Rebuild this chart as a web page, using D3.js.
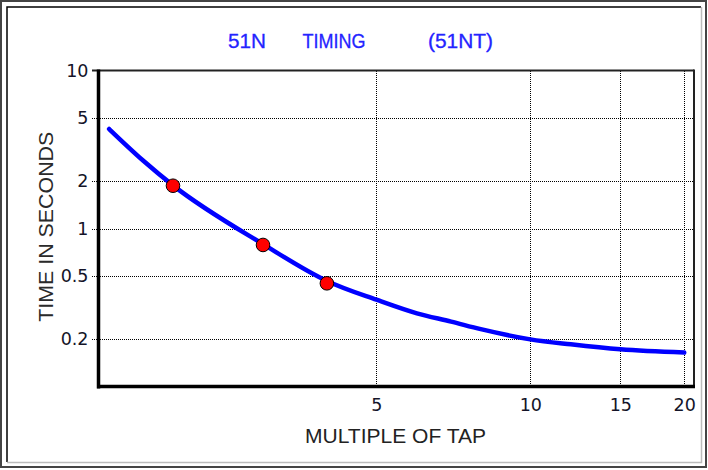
<!DOCTYPE html>
<html>
<head>
<meta charset="utf-8">
<script src="https://cdn.jsdelivr.net/npm/d3@7/dist/d3.min.js"></script>
<style>
  html, body { margin: 0; padding: 0; background: #fff; }
  svg { display: block; }
</style>
</head>
<body>
<svg id="chart" width="708" height="470"></svg>
<script>
// 51N ground time-overcurrent element: operating time vs. multiple of tap (log-log)
const titleParts = ["51N", "TIMING", "(51NT)"];
const xTitle = "MULTIPLE OF TAP";
const yTitle = "TIME IN SECONDS";

const xTickValues = [5, 10, 15, 20];
const xTickLabels = ["5", "10", "15", "20"];
const yTickValues = [10, 5, 2, 1, 0.5, 0.2];
const yTickLabels = ["10", "5", "2", "1", "0.5", "0.2"];

// relay characteristic curve
const curveMultiples = [1.5, 1.75, 2, 3, 4, 5, 6, 7, 8, 10, 12, 15, 20];
const curveTimes     = [4.27, 2.69, 1.88, 0.80, 0.468, 0.356, 0.292, 0.259, 0.232, 0.200, 0.186, 0.173, 0.165];

// measured test points
const testMultiples = [2, 3, 4];
const testTimes     = [1.87, 0.79, 0.452];

const W = 708, H = 470;
const plot = { left: 98.5, right: 694, top: 70.5, bottom: 387 };

const svg = d3.select("#chart");

const x = d3.scaleLog().domain([1.43, 20.9]).range([plot.left, plot.right]);
const y = d3.scaleLog().domain([0.1, 10]).range([plot.bottom, plot.top]);
const crisp = v => Math.round(v) + 0.5;

// outer window frame
svg.append("rect").attr("x", 1).attr("y", 1).attr("width", W - 3).attr("height", H - 4)
  .attr("fill", "none").attr("stroke", "#444").attr("stroke-width", 2);
svg.append("path").attr("d", "M7,462V7H701").attr("fill", "none").attr("stroke", "#000").attr("stroke-width", 1.5);
svg.append("path").attr("d", "M7,462.5H701.5V7").attr("fill", "none").attr("stroke", "#bbb").attr("stroke-width", 1.5);

// title
const titleX = [228, 302.5, 428];
const titleW = [38, 63, 65];
svg.append("g").selectAll("text").data(titleParts).join("text")
  .attr("x", (d, i) => titleX[i])
  .attr("y", 47.5)
  .attr("textLength", (d, i) => titleW[i])
  .attr("lengthAdjust", "spacingAndGlyphs")
  .attr("font-family", "'Liberation Sans', Arial, sans-serif")
  .attr("font-size", 20)
  .attr("fill", "#2424ff")
  .attr("stroke", "#2424ff")
  .attr("stroke-width", 0.3)
  .text(d => d);

// gridlines (dotted, pixel-aligned so the dots stay distinct)
const grid = svg.append("g").attr("stroke", "#000").attr("stroke-width", 1.2)
  .attr("stroke-dasharray", "1,1").attr("fill", "none").attr("shape-rendering", "crispEdges");
grid.selectAll("line.h").data(yTickValues.filter(v => v < 10)).join("line")
  .attr("class", "h")
  .attr("x1", 92).attr("x2", plot.right)
  .attr("y1", d => crisp(y(d))).attr("y2", d => crisp(y(d)));
grid.selectAll("line.v").data(xTickValues).join("line")
  .attr("class", "v")
  .attr("x1", d => crisp(x(d))).attr("x2", d => crisp(x(d)))
  .attr("y1", Math.round(plot.top)).attr("y2", Math.round(plot.bottom));

// plot frame: thin top/right, heavy left/bottom axes
svg.append("line").attr("x1", 92).attr("x2", plot.right).attr("y1", plot.top).attr("y2", plot.top)
  .attr("stroke", "#222").attr("stroke-width", 1.8);
svg.append("line").attr("x1", plot.right).attr("x2", plot.right).attr("y1", plot.top - 1).attr("y2", plot.bottom)
  .attr("stroke", "#222").attr("stroke-width", 2);

// axes via d3 axis generators
const yAxis = d3.axisLeft(y).tickValues(yTickValues)
  .tickFormat((d, i) => yTickLabels[i]).tickSize(0).tickPadding(10);
const gy = svg.append("g").attr("transform", `translate(${plot.left},0)`).call(yAxis);
gy.select(".domain").remove();
gy.selectAll("text")
  .attr("font-family", "'DejaVu Sans', sans-serif")
  .attr("font-size", 17.5)
  .attr("fill", "#141428");

const xAxis = d3.axisBottom(x).tickValues(xTickValues)
  .tickFormat((d, i) => xTickLabels[i]).tickSize(0).tickPadding(12);
const gx = svg.append("g").attr("transform", `translate(0,${plot.bottom})`).call(xAxis);
gx.select(".domain").remove();
gx.selectAll("text")
  .attr("font-family", "'DejaVu Sans', sans-serif")
  .attr("font-size", 17.5)
  .attr("fill", "#141428");

svg.append("line").attr("x1", plot.left).attr("x2", plot.left).attr("y1", plot.top - 1).attr("y2", plot.bottom + 1.5)
  .attr("stroke", "#000").attr("stroke-width", 3.5);
svg.append("line").attr("x1", plot.left - 1.5).attr("x2", plot.right + 1).attr("y1", plot.bottom - 0.5).attr("y2", plot.bottom - 0.5)
  .attr("stroke", "#000").attr("stroke-width", 3.5);

// axis titles
svg.append("text")
  .attr("x", 395.5).attr("y", 442.5)
  .attr("text-anchor", "middle")
  .attr("textLength", 181).attr("lengthAdjust", "spacingAndGlyphs")
  .attr("font-family", "'Liberation Sans', Arial, sans-serif")
  .attr("font-size", 20).attr("fill", "#222")
  .text(xTitle);
svg.append("text")
  .attr("transform", "translate(52.5,226.7) rotate(-90)")
  .attr("text-anchor", "middle")
  .attr("textLength", 190).attr("lengthAdjust", "spacingAndGlyphs")
  .attr("font-family", "'Liberation Sans', Arial, sans-serif")
  .attr("font-size", 20).attr("fill", "#2a2a2a")
  .text(yTitle);

// characteristic curve
const curveData = curveMultiples.map((m, i) => [m, curveTimes[i]]);
const line = d3.line().x(d => x(d[0])).y(d => y(d[1])).curve(d3.curveMonotoneX);
svg.append("path").datum(curveData)
  .attr("d", line)
  .attr("fill", "none")
  .attr("stroke", "#0000ff")
  .attr("stroke-width", 4.5)
  .attr("stroke-linecap", "round");

// test points
svg.append("g").selectAll("circle").data(testMultiples).join("circle")
  .attr("cx", d => x(d))
  .attr("cy", (d, i) => y(testTimes[i]))
  .attr("r", 6.8)
  .attr("fill", "#ff0000")
  .attr("stroke", "#000")
  .attr("stroke-width", 1);
</script>
</body>
</html>
